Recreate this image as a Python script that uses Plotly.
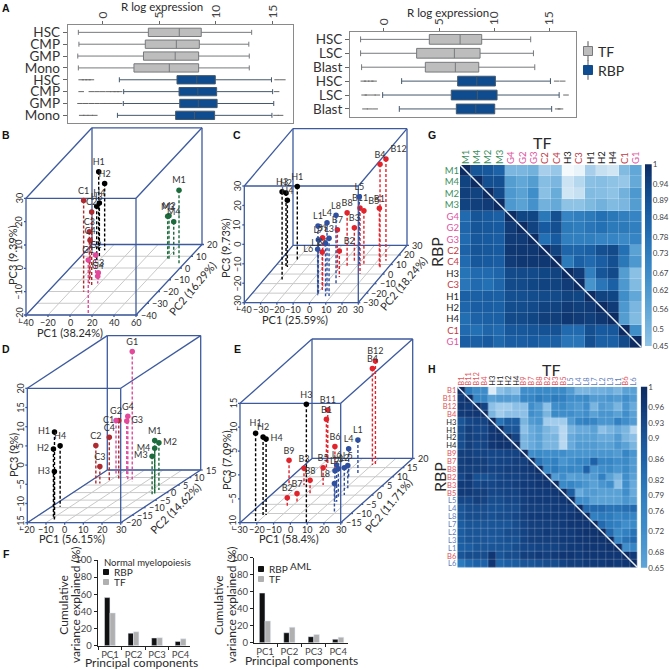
import numpy as np
import plotly.graph_objects as go

# ---- panel A: expression boxplots (q1, median, q3, fences)
cells_a1 = ["HSC", "CMP", "GMP", "Mono", "HSC", "CMP", "GMP", "Mono"]
a1_tf_low = [-2.15, -2.1, -2.2, -2.15]
a1_tf_q1 = [4.03, 3.76, 3.6, 2.76]
a1_tf_med = [6.76, 6.5, 6.4, 5.88]
a1_tf_q3 = [8.7, 8.53, 8.47, 8.47]
a1_tf_up = [13.15, 12.9, 12.94, 12.94]
a1_rbp_low = [1.47, 1.85, 1.82, 1.3]
a1_rbp_q1 = [6.56, 6.74, 6.8, 6.44]
a1_rbp_med = [8.3, 8.4, 8.44, 8.1]
a1_rbp_q3 = [9.94, 10.06, 10.1, 9.88]
a1_rbp_up = [14.9, 15.0, 15.1, 14.94]
a1_out_x = [-1.9, -1.6, -1.3, -1.0, 15.4, 15.9,
            -1.9, -1.0, -0.5, 0.0, 0.5, 0.9, 1.2, 1.5, 15.35,
            -2.0, -1.5, -1.0, -0.5, 0.0, 0.35, 0.8, 1.2, 1.5,
            -1.85, -1.5, -1.1, -0.7, 15.3, 15.7]
a1_out_row = [5, 5, 5, 5, 5, 5,
              6, 6, 6, 6, 6, 6, 6, 6, 6,
              7, 7, 7, 7, 7, 7, 7, 7, 7,
              8, 8, 8, 8, 8, 8]

cells_a2 = ["HSC", "LSC", "Blast", "HSC", "LSC", "Blast"]
a2_tf_low = [-2.12, -2.12, -2.03]
a2_tf_q1 = [4.11, 2.96, 3.75]
a2_tf_med = [6.9, 6.38, 6.47]
a2_tf_q3 = [8.86, 8.71, 8.59]
a2_tf_up = [13.3, 13.55, 13.67]
a2_rbp_low = [1.6, -0.12, 1.39]
a2_rbp_q1 = [6.68, 6.1, 6.56]
a2_rbp_med = [8.41, 8.47, 8.32]
a2_rbp_q3 = [10.1, 10.25, 10.04]
a2_rbp_up = [15.09, 15.88, 15.2]
a2_out_x = [-1.87, -1.57, -1.2, -0.9, 15.66, 16.2, -1.8, -1.5, -1.0, -0.6, 16.5, -1.72, -1.3, -0.8, 15.75, 16.0]
a2_out_row = [4, 4, 4, 4, 4, 4, 5, 5, 5, 5, 5, 6, 6, 6, 6, 6]

# ---- panels B-E: PCA coordinates
b_names = ["H1", "H2", "H3", "H4", "C1", "C2", "C3", "C4", "G1", "G2", "G3", "G4", "M1", "M2", "M3", "M4"]
b_pc1 = [-27.7, -23.7, -22.4, -22.8, -7.4, -4.3, -9.3, -11.5, 15.2, -9.2, -4.6, -1.7, 55.2, 42.7, 40.7, 43.3]
b_pc2 = [13.8, 15.2, 6.7, 9.5, -20.2, -16.0, -13.1, -10.3, -38.6, -7.5, -9.7, -13.1, 3.9, 7.3, 8.1, 11.0]
b_pc3 = [14.3, 8.6, 3.1, 3.1, 19.1, 12.1, 2.1, -2.9, 2.9, -10.7, -17.1, -16.9, 11.4, -1.3, -1.9, -5.7]

c_names = ["H1", "H2", "H3", "H4", "L1", "L2", "L3", "L4", "L5", "L6", "L7", "L8",
           "B12", "B4", "B1", "B5", "B11", "B8", "B7", "B3", "B2", "B6", "B9"]
c_pc1 = [-29.6, -33.4, -28.9, -32.2, 1.3, 6.5, 8.6, 6.0, 10.5, 1.1, 0.7, 6.4,
         25.1, 24.9, 24.5, 13.3, 16.0, 3.8, 0.4, 5.7, 5.0, 1.4, -0.1]
c_pc2 = [14.4, 8.2, -5.7, 7.4, -22.1, -23.2, -23.1, -20.4, 10.4, -22.1, -20.4, -10.1,
         13.9, 7.0, 7.0, 10.4, 0.2, 8.8, 3.6, 13.9, -3.2, -17.0, -13.6]
c_pc3 = [8.0, 7.7, 15.1, 4.3, 5.5, -2.9, -0.3, 6.4, 4.6, -6.4, -2.4, 5.2,
         22.3, 23.0, 0.4, -2.6, 3.8, -2.8, -9.0, -13.0, -16.6, -10.3, -4.6]

d_names = ["G1", "G2", "G3", "G4", "C1", "C2", "C3", "C4", "H1", "H2", "H3", "H4", "M1", "M2", "M3", "M4"]
d_pc1 = [2.9, -11.3, -4.2, -0.95, -5.8, -13.9, -13.1, -9.4, -9.0, -10.9, -7.7, -15.4, 25.7, 23.9, 24.3, 23.0]
d_pc2 = [7.2, 11.7, 10.6, 8.4, 8.4, 5.0, 6.1, 7.2, -17.1, -16.0, -18.2, -9.4, -1.6, 1.7, -1.6, 0.6]
d_pc3 = [18.9, -0.8, -0.5, 1.6, 0.5, -4.7, -10.6, -3.4, 7.5, 2.6, -2.4, 0.9, -0.8, -2.7, -4.9, -3.7]

e_names = ["H1", "H2", "H3", "H4", "B12", "B4", "B11", "B1", "B6", "B9", "B3", "B5", "B8", "B2", "B7",
           "L1", "L4", "L5", "L2", "L6", "L7", "L3", "L8"]
e_pc1 = [-21.8, -20.3, 9.3, -19.6, 12.2, 10.4, -16.2, -13.7, -7.4, -25.9, -17.0, -5.6, -6.7, -12.5, -8.9,
         7.4, 5.2, 11.3, 13.7, 13.6, 12.6, 12.4, 18.9]
e_pc2 = [-14.1, -11.7, -14.8, -10.8, 16.4, 16.4, 16.4, 13.7, 12.7, 5.5, 5.5, 5.5, 0.05, -6.3, -4.5,
         11.8, 9.1, 3.7, 0.05, -3.6, -3.6, -1.8, -9.0]
e_pc3 = [8.4, 6.7, 14.7, 5.9, 11.8, 10.2, 1.5, 0.6, -4.7, -4.8, -6.5, -6.4, -6.9, -8.1, -7.9,
         -3.0, -3.8, -5.2, -4.3, -2.3, -3.5, -3.8, -4.1]

# ---- panel F: variance explained
pcs = ["PC1", "PC2", "PC3", "PC4"]
f_normal_rbp = [56.15, 14.62, 9.0, 5.0]
f_normal_tf = [38.24, 16.29, 9.39, 8.0]
f_aml_rbp = [58.4, 11.71, 7.09, 4.0]
f_aml_tf = [25.59, 18.24, 9.73, 6.5]

# ---- panels G, H: correlation matrices
g_labels = ["M1", "M4", "M2", "M3", "G4", "G2", "G3", "C2", "C4", "H3", "C3", "H1", "H2", "H4", "C1", "G1"]
g_ticks = [1, 0.94, 0.89, 0.84, 0.78, 0.73, 0.67, 0.62, 0.56, 0.5, 0.45]
g_corr = [
    [1, .88, .87, .83, .50, .50, .52, .42, .44, .30, .32, .42, .38, .36, .48, .56],
    [.94, 1, .90, .90, .60, .56, .60, .47, .50, .37, .40, .46, .47, .45, .44, .55],
    [.95, .94, 1, .92, .62, .58, .66, .46, .54, .36, .38, .48, .47, .45, .52, .62],
    [.94, .95, .96, 1, .62, .58, .65, .52, .55, .45, .45, .49, .52, .48, .50, .60],
    [.80, .88, .86, .84, 1, .93, .93, .75, .90, .70, .72, .74, .78, .75, .72, .70],
    [.82, .88, .87, .86, .96, 1, .94, .86, .90, .74, .73, .76, .78, .74, .74, .72],
    [.80, .87, .86, .85, .96, .96, 1, .78, .86, .72, .72, .72, .70, .70, .68, .70],
    [.83, .88, .87, .86, .97, .97, .97, 1, .94, .82, .82, .84, .90, .92, .78, .58],
    [.80, .87, .86, .85, .96, .97, .97, .97, 1, .74, .84, .80, .85, .90, .75, .62],
    [.77, .80, .80, .82, .92, .92, .92, .93, .94, 1, .96, .72, .88, .92, .60, .46],
    [.76, .80, .78, .82, .92, .92, .93, .94, .94, .96, 1, .64, .76, .84, .62, .48],
    [.84, .84, .85, .84, .90, .90, .91, .92, .92, .94, .93, 1, .94, .93, .66, .56],
    [.82, .85, .85, .84, .91, .91, .92, .94, .94, .96, .95, .96, 1, .96, .62, .50],
    [.79, .83, .84, .84, .92, .92, .93, .95, .95, .97, .96, .95, .97, 1, .60, .48],
    [.80, .78, .82, .80, .87, .87, .88, .89, .89, .80, .80, .90, .86, .87, 1, .66],
    [.85, .84, .86, .81, .85, .85, .86, .84, .84, .76, .76, .90, .84, .84, .92, 1],
]
h_labels = ["B1", "B11", "B12", "B4", "H3", "H1", "H2", "H4", "B9", "B7", "B8", "B2", "B3", "B5",
            "L5", "L4", "L8", "L7", "L2", "L3", "L1", "B6", "L6"]
h_ticks = [1, 0.96, 0.93, 0.9, 0.86, 0.82, 0.79, 0.76, 0.72, 0.68, 0.65]
h_corr = [
    [1, .80, .73, .73, .53, .60, .62, .60, .72, .72, .74, .74, .74, .74, .68, .62, .62, .63, .63, .64, .62, .66, .66],
    [.96, 1, .76, .76, .66, .68, .68, .66, .76, .76, .80, .76, .80, .78, .72, .72, .74, .68, .68, .70, .68, .72, .68],
    [.97, .96, 1, .94, .60, .58, .58, .60, .60, .72, .68, .60, .72, .74, .70, .68, .72, .62, .68, .66, .62, .70, .64],
    [.96, .97, .97, 1, .62, .58, .60, .60, .60, .72, .70, .62, .74, .72, .72, .70, .72, .66, .70, .70, .66, .72, .66],
    [.90, .93, .94, .94, 1, .82, .88, .88, .62, .68, .70, .58, .58, .58, .68, .76, .78, .76, .70, .70, .78, .72, .68],
    [.92, .95, .93, .93, .97, 1, .90, .90, .60, .64, .66, .62, .60, .56, .62, .64, .64, .66, .60, .62, .64, .62, .56],
    [.92, .95, .94, .94, .97, .98, 1, .94, .62, .64, .66, .62, .62, .56, .64, .66, .66, .66, .64, .64, .68, .62, .60],
    [.92, .95, .93, .94, .97, .98, .98, 1, .62, .64, .66, .62, .62, .56, .64, .68, .68, .68, .66, .66, .70, .66, .62],
    [.95, .95, .94, .94, .93, .93, .94, .94, 1, .72, .74, .72, .72, .72, .70, .70, .70, .70, .70, .70, .68, .76, .70],
    [.95, .96, .95, .95, .93, .94, .94, .95, .95, 1, .82, .76, .78, .70, .72, .76, .76, .86, .76, .76, .72, .74, .68],
    [.95, .95, .95, .95, .94, .94, .95, .95, .96, .97, 1, .76, .80, .74, .76, .74, .86, .70, .72, .74, .70, .74, .68],
    [.93, .96, .91, .91, .92, .93, .94, .94, .95, .96, .97, 1, .68, .72, .66, .68, .68, .68, .78, .66, .62, .72, .66],
    [.96, .96, .93, .94, .93, .94, .94, .95, .96, .96, .97, .97, 1, .74, .76, .72, .70, .66, .70, .72, .60, .72, .64],
    [.96, .96, .95, .95, .93, .93, .94, .94, .96, .96, .96, .96, .97, 1, .88, .64, .68, .68, .66, .66, .66, .72, .64],
    [.93, .93, .95, .94, .92, .92, .93, .93, .95, .96, .96, .96, .96, .97, 1, .72, .72, .66, .66, .66, .66, .70, .66],
    [.90, .92, .92, .92, .91, .91, .92, .92, .95, .95, .95, .95, .96, .96, .96, 1, .84, .84, .84, .82, .82, .83, .84],
    [.90, .92, .92, .92, .91, .92, .92, .93, .95, .96, .96, .96, .96, .96, .97, .98, 1, .78, .80, .80, .76, .78, .76],
    [.88, .90, .90, .90, .90, .90, .90, .92, .94, .95, .95, .95, .95, .96, .97, .97, .97, 1, .84, .80, .78, .72, .74],
    [.88, .90, .90, .90, .90, .90, .92, .92, .94, .95, .95, .96, .95, .96, .96, .97, .98, .98, 1, .84, .74, .78, .82],
    [.88, .90, .90, .90, .89, .90, .91, .91, .94, .95, .95, .95, .95, .96, .96, .97, .97, .98, .98, 1, .76, .82, .84],
    [.87, .88, .90, .90, .90, .90, .90, .92, .93, .93, .94, .94, .94, .95, .96, .96, .97, .97, .97, .98, 1, .72, .76],
    [.90, .92, .92, .92, .97, .90, .92, .92, .95, .95, .96, .95, .96, .97, .97, .96, .97, .97, .97, .97, .97, 1, .96],
    [.80, .84, .86, .86, .97, .85, .87, .88, .90, .90, .91, .92, .92, .94, .95, .95, .96, .96, .96, .97, .96, .97, 1],
]

SIZE = 669
FONT = "Lato"
TEXT = "#2b2b2b"
GREY_BOX = "#bdbdbd"
BLUE_BOX = "#0f4c8f"
BOX_BLUE = "#3d5a9e"
GROUP_COLORS = {"H": "#000000", "C": "#ad2a30", "G": "#e2499b", "M": "#1c6b3c", "B": "#e3232c", "L": "#2f4f9f"}
TICK_COLORS = {"H": "#222222", "C": "#bf3a45", "G": "#e0559f", "M": "#3d8f60", "B": "#e2545a", "L": "#5c7cbd"}

fig = go.Figure()
layout = dict(
    width=SIZE, height=SIZE, margin=dict(l=0, r=0, t=0, b=0),
    paper_bgcolor="white", plot_bgcolor="rgba(0,0,0,0)",
    font=dict(family=FONT, color=TEXT), boxmode="overlay", barmode="group", bargap=0.5, bargroupgap=0,
    showlegend=False,
)
annotations = []
axis_count = 1  # x/y is the full-canvas overlay used by the 3D panels


def new_axes(x0, y0, x1, y1, xkw, ykw):
    global axis_count
    axis_count += 1
    n = axis_count
    layout[f"xaxis{n}"] = dict(domain=[x0 / SIZE, x1 / SIZE], anchor=f"y{n}", automargin=False, **xkw)
    layout[f"yaxis{n}"] = dict(domain=[1 - y1 / SIZE, 1 - y0 / SIZE], anchor=f"x{n}", automargin=False, **ykw)
    return f"x{n}", f"y{n}"


def label(px, py, text, size=10, angle=0, color=TEXT, weight=None, family=FONT, anchor="center"):
    annotations.append(dict(
        x=px, y=py, xref="x", yref="y", text=text, showarrow=False, textangle=angle,
        font=dict(size=size, color=color, family=family, weight=weight), xanchor=anchor, yanchor="middle",
    ))


def key_square(px, py, size, color, text, text_size, edge=None, whisker=False):
    # small legend key, the stock legend keeps too wide a gap for this layout
    if whisker:
        fig.add_trace(go.Scatter(x=[px], y=[py], mode="markers", xaxis="x", yaxis="y", hoverinfo="skip",
                                 marker=dict(symbol="line-ns-open", size=size + 5, color="#555",
                                             line=dict(color="#555", width=1))))
    fig.add_trace(go.Scatter(x=[px], y=[py], mode="markers", xaxis="x", yaxis="y", hoverinfo="skip",
                             marker=dict(symbol="square", size=size, color=color,
                                         line=dict(color=edge or color, width=1))))
    label(px + size / 2 + 3, py, text, text_size, anchor="left")


# ---- A
def box_panel(rect, x_range, cells, tf, rbp, out_x, out_row, y_range):
    xkw = dict(range=x_range, side="top", tickvals=[0, 5, 10, 15], tickangle=-90, ticks="outside", ticklen=3,
               tickfont=dict(size=12, color="#444"), showgrid=False, zeroline=False, showline=True, mirror=True,
               linecolor="#8a8a8a", linewidth=1, tickcolor="#666")
    ykw = dict(range=y_range, tickvals=list(range(1, len(cells) + 1)), ticktext=cells, ticks="outside", ticklen=4,
               tickfont=dict(size=13.5, color="#333"), showgrid=False, zeroline=False, showline=True, mirror=True,
               linecolor="#8a8a8a", linewidth=1, tickcolor="#666")
    xa, ya = new_axes(*rect, xkw, ykw)
    n = len(tf[0])
    for name, vals, pos, fill, edge in [("TF", tf, range(1, n + 1), GREY_BOX, "#77797c"),
                                        ("RBP", rbp, range(n + 1, 2 * n + 1), BLUE_BOX, "#44586c")]:
        fig.add_trace(go.Box(
            y=list(pos), lowerfence=vals[0], q1=vals[1], median=vals[2], q3=vals[3], upperfence=vals[4],
            orientation="h", width=0.7, whiskerwidth=0.6, name=name, fillcolor=fill,
            line=dict(color=edge, width=1), xaxis=xa, yaxis=ya, boxpoints=False,
        ))
    fig.add_trace(go.Scatter(
        x=out_x, y=out_row, mode="markers", xaxis=xa, yaxis=ya,
        marker=dict(symbol="line-ew-open", size=4, color="#666", line=dict(color="#666", width=1)),
    ))


box_panel((67.7, 25, 293, 122.7), [-3.09, 16.8], cells_a1,
          (a1_tf_low, a1_tf_q1, a1_tf_med, a1_tf_q3, a1_tf_up),
          (a1_rbp_low, a1_rbp_q1, a1_rbp_med, a1_rbp_q3, a1_rbp_up),
          a1_out_x, a1_out_row, [8.62, 0.38])
box_panel((350, 31.7, 575.7, 117.3), [-3.08, 17.38], cells_a2,
          (a2_tf_low, a2_tf_q1, a2_tf_med, a2_tf_q3, a2_tf_up),
          (a2_rbp_low, a2_rbp_q1, a2_rbp_med, a2_rbp_q3, a2_rbp_up),
          a2_out_x, a2_out_row, [6.6, 0.45])
label(162, 6, "R log expression", 11.5)
label(447.7, 12, "R log expression", 11.5)


# ---- B-E: oblique box like scatterplot3d, projected by hand since scenes have no oblique camera
def project(p, pc1, pc2, pc3):
    u = (np.asarray(pc1, float) - p["r1"][0]) / (p["r1"][1] - p["r1"][0])
    t = (np.asarray(pc2, float) - p["r2"][0]) / (p["r2"][1] - p["r2"][0])
    v = (np.asarray(pc3, float) - p["r3"][0]) / (p["r3"][1] - p["r3"][0])
    sx = p["x0"] + u * p["w"] + t * p["ox"]
    sy = p["y0"] - v * p["h"] + t * p["oy"]
    return sx, sy


def seg_trace(xs, ys, color, width, dash=None):
    fig.add_trace(go.Scatter(x=xs, y=ys, mode="lines", line=dict(color=color, width=width, dash=dash),
                             hoverinfo="skip", xaxis="x", yaxis="y"))


def fmt(v):
    return str(v).replace("-", "\u2212")


def panel_3d(p, names, pc1, pc2, pc3, side_labels):
    r1, r2, r3 = p["r1"], p["r2"], p["r3"]
    # floor grid
    xs, ys = [], []
    for a in p["t1"]:
        sx, sy = project(p, [a, a], r2, [r3[0], r3[0]])
        xs += list(sx) + [None]
        ys += list(sy) + [None]
    for a in p["t2"]:
        sx, sy = project(p, r1, [a, a], [r3[0], r3[0]])
        xs += list(sx) + [None]
        ys += list(sy) + [None]
    seg_trace(xs, ys, "#c9c9c9", 1)
    # back edges then front box
    xs, ys = [], []
    corners = [
        ((r1[0], r2[1], r3[0]), (r1[1], r2[1], r3[0])), ((r1[1], r2[1], r3[0]), (r1[1], r2[1], r3[1])),
        ((r1[1], r2[1], r3[1]), (r1[0], r2[1], r3[1])), ((r1[0], r2[1], r3[1]), (r1[0], r2[1], r3[0])),
        ((r1[0], r2[0], r3[0]), (r1[1], r2[0], r3[0])), ((r1[1], r2[0], r3[0]), (r1[1], r2[0], r3[1])),
        ((r1[1], r2[0], r3[1]), (r1[0], r2[0], r3[1])), ((r1[0], r2[0], r3[1]), (r1[0], r2[0], r3[0])),
        ((r1[0], r2[0], r3[0]), (r1[0], r2[1], r3[0])), ((r1[1], r2[0], r3[0]), (r1[1], r2[1], r3[0])),
        ((r1[0], r2[0], r3[1]), (r1[0], r2[1], r3[1])), ((r1[1], r2[0], r3[1]), (r1[1], r2[1], r3[1])),
    ]
    for a, b in corners:
        sx, sy = project(p, [a[0], b[0]], [a[1], b[1]], [a[2], b[2]])
        xs += list(sx) + [None]
        ys += list(sy) + [None]
    # ticks and tick labels
    for a in p["t1"]:
        sx, sy = project(p, a, r2[0], r3[0])
        xs += [float(sx), float(sx), None]
        ys += [float(sy), float(sy) + 2, None]
        label(float(sx), float(sy) + 7, fmt(a), 9)
    for a in p["t3"]:
        sx, sy = project(p, r1[0], r2[0], a)
        xs += [float(sx), float(sx) - 2, None]
        ys += [float(sy), float(sy), None]
        label(float(sx) - 7, float(sy), fmt(a), 9, angle=-90)
    for a in p["t2"]:
        sx, sy = project(p, r1[1], a, r3[0])
        xs += [float(sx), float(sx) + 2, None]
        ys += [float(sy), float(sy), None]
        label(float(sx) + 3, float(sy), fmt(a), 9, anchor="left")
    seg_trace(xs, ys, BOX_BLUE, 1.3)
    # drop lines and points per group
    for group in ["H", "C", "G", "M", "B", "L"]:
        idx = [i for i, nm in enumerate(names) if nm[0] == group]
        if not idx:
            continue
        color = GROUP_COLORS[group]
        xs, ys = [], []
        for i in idx:
            sx, sy = project(p, [pc1[i], pc1[i]], [pc2[i], pc2[i]], [pc3[i], r3[0]])
            xs += list(sx) + [None]
            ys += list(sy) + [None]
        seg_trace(xs, ys, color, 1.4, dash="3px,2px")
        sx, sy = project(p, [pc1[i] for i in idx], [pc2[i] for i in idx], [pc3[i] for i in idx])
        fig.add_trace(go.Scatter(
            x=sx, y=sy, mode="markers+text", text=[names[i] for i in idx],
            textposition=[side_labels.get(names[i], "top center") for i in idx],
            textfont=dict(size=9, color="#333", family=FONT),
            marker=dict(size=5.5, color=color), hoverinfo="skip", xaxis="x", yaxis="y",
        ))


panel_b = dict(r1=[-40, 60], r2=[-40, 20], r3=[-20, 30], x0=26, y0=315, w=110, h=116.7, ox=66, oy=-70.5,
               t1=[-40, -20, 0, 20, 40, 60], t2=[-40, -30, -20, -10, 0, 10, 20], t3=[-20, -10, 0, 10, 20, 30])
panel_c = dict(r1=[-40, 30], r2=[-30, 30], r3=[-30, 30], x0=244.3, y0=302.7, w=114, h=116.7, ox=48.7, oy=-57.3,
               t1=[-40, -30, -20, -10, 0, 10, 20, 30], t2=[-30, -20, -10, 0, 10, 20, 30],
               t3=[-30, -20, -10, 0, 10, 20, 30])
panel_d = dict(r1=[-20, 30], r2=[-20, 15], r3=[-15, 20], x0=27.3, y0=522.7, w=93.4, h=134.4, ox=80, oy=-52.7,
               t1=[-20, -10, 0, 10, 20, 30], t2=[-20, -15, -10, -5, 0, 5, 10, 15],
               t3=[-15, -10, -5, 0, 5, 10, 15, 20])
panel_e = dict(r1=[-30, 30], r2=[-15, 20], r3=[-10, 15], x0=240, y0=522.7, w=100.7, h=119.4, ox=72, oy=-64.3,
               t1=[-30, -20, -10, 0, 10, 20, 30], t2=[-15, -10, -5, 0, 5, 10, 15, 20],
               t3=[-10, -5, 0, 5, 10, 15])

panel_3d(panel_b, b_names, b_pc1, b_pc2, b_pc3, {})
panel_3d(panel_c, c_names, c_pc1, c_pc2, c_pc3, {"L6": "middle left", "L2": "middle left", "B5": "top right",
                                                 "B2": "top right", "B12": "top right"})
panel_3d(panel_d, d_names, d_pc1, d_pc2, d_pc3,
         {"H1": "middle left", "H2": "middle left", "H3": "middle left", "C1": "middle left", "G3": "middle right",
          "M2": "middle right", "M3": "middle left", "M4": "middle left"})
panel_3d(panel_e, e_names, e_pc1, e_pc2, e_pc3, {"H4": "middle right", "L8": "top left"})

label(70, 332, "PC1 (38.24%)", 11)
label(12, 255, "PC3 (9.39%)", 11, angle=-90)
label(192, 288, "PC2 (16.29%)", 11, angle=-50)
label(295, 319, "PC1 (25.59%)", 11)
label(225, 248, "PC3 (9.73%)", 11, angle=-90)
label(403, 283, "PC2 (18.24%)", 11, angle=-50)
label(72, 538, "PC1 (56.15%)", 11)
label(13, 455, "PC3 (9%)", 11, angle=-90)
label(175, 508, "PC2 (14.62%)", 11, angle=-45)
label(289, 538, "PC1 (58.4%)", 11)
label(226, 460, "PC3 (7.09%)", 11, angle=-90)
label(388, 505, "PC2 (11.71%)", 11, angle=-50)

key_square(588, 51, 9, GREY_BOX, "TF", 14, edge="#77797c", whisker=True)
key_square(588, 70, 9, BLUE_BOX, "RBP", 14, whisker=True)


# ---- F
def bar_panel(rect, x_range, rbp, tf):
    xkw = dict(type="category", categoryorder="array", categoryarray=pcs, range=x_range, tickson="boundaries",
               ticks="outside", ticklen=3, showline=True, linecolor="#222", linewidth=1.2, tickcolor="#222",
               tickangle=0, tickfont=dict(size=9.5, color="#444"), showgrid=False, zeroline=False)
    ykw = dict(range=[0, 100], tickvals=[0, 20, 40, 60, 80, 100], ticks="outside", ticklen=3, showline=True,
               linecolor="#222", linewidth=1.2, tickcolor="#222", tickfont=dict(size=9.5, color="#444"),
               showgrid=False, zeroline=False)
    xa, ya = new_axes(*rect, xkw, ykw)
    fig.add_trace(go.Bar(x=pcs, y=rbp, name="RBP", marker_color="#111111", xaxis=xa, yaxis=ya,
                         offsetgroup="a", width=0.23, offset=-0.23))
    fig.add_trace(go.Bar(x=pcs, y=tf, name="TF", marker_color="#b0b0b0", xaxis=xa, yaxis=ya,
                         offsetgroup="b", width=0.23, offset=0))


bar_panel((97.7, 560, 190, 645.7), [-0.52, 3.4], f_normal_rbp, f_normal_tf)
bar_panel((254, 557.7, 347.7, 642.7), [-0.45, 3.39], f_aml_rbp, f_aml_tf)
key_square(106, 572, 5, "#111111", "RBP", 10)
key_square(106, 582, 5, "#b0b0b0", "TF", 10)
key_square(261, 569, 5, "#111111", "RBP", 10)
key_square(261, 579, 5, "#b0b0b0", "TF", 10)
label(147.7, 562.7, "Normal myelopoiesis", 9.5)
label(300, 565.7, "AML", 10)
label(141.7, 662, "Principal components", 12)
label(301, 660, "Principal components", 12)
label(62.7, 605, "Cumulative", 12, angle=-90)
label(75, 605, "variance explained (%)", 12, angle=-90)
label(218, 605, "Cumulative", 12, angle=-90)
label(231, 605, "variance explained (%)", 12, angle=-90)

# ---- G, H heatmaps, colour bar drawn as its own small heatmap
scale_g = [(.28, "#ffffff"), (.38, "#c6e0f2"), (.45, "#8fc3e6"), (.55, "#64a9d8"), (.67, "#3d8cc8"), (.78, "#2470b4"),
           (.86, "#185a9f"), (.92, "#124a8a"), (1, "#0d2c63")]
scale_h = [(.50, "#ffffff"), (.55, "#c2def2"), (.60, "#8dc0e6"), (.65, "#5ea5d8"), (.72, "#3f8ecb"), (.79, "#2f7fc0"),
           (.86, "#1d62a8"), (.90, "#1a5598"), (.96, "#113a78"), (1, "#0d2c63")]


def colorscale(stops):
    lo, hi = stops[0][0], stops[-1][0]
    return [[(v - lo) / (hi - lo), c] for v, c in stops]


def heat_panel(rect, bar_rect, labels, corr, stops, ticks, tick_size, bar_size):
    lo, hi = stops[0][0], stops[-1][0]
    n = len(labels)
    tickx = [f'<span style="color:{TICK_COLORS[nm[0]]}">{nm}</span>' for nm in labels]
    xkw = dict(range=[-0.5, n - 0.5], side="top", tickvals=list(range(n)), ticktext=tickx, tickangle=-90, ticks="",
               tickfont=dict(size=tick_size), showgrid=False, zeroline=False)
    ykw = dict(range=[n - 0.5, -0.5], tickvals=list(range(n)), ticktext=tickx, ticks="",
               tickfont=dict(size=tick_size), showgrid=False, zeroline=False)
    xa, ya = new_axes(*rect, xkw, ykw)
    fig.add_trace(go.Heatmap(z=corr, x=list(range(n)), y=list(range(n)), zmin=lo, zmax=hi, xgap=0.2, ygap=0.2,
                             colorscale=colorscale(stops), showscale=False, xaxis=xa, yaxis=ya))
    fig.add_trace(go.Scatter(x=[-0.5, n - 0.5], y=[-0.5, n - 0.5], mode="lines", line=dict(color="#e8f1f8", width=1.5),
                             hoverinfo="skip", xaxis=xa, yaxis=ya))
    bar_vals = np.linspace(min(ticks), 1, 120)
    xkw = dict(range=[0, 1], showticklabels=False, ticks="", showgrid=False, zeroline=False)
    ykw = dict(range=[min(ticks), 1], side="right", tickvals=ticks, ticktext=[str(t) for t in ticks], ticks="",
               tickfont=dict(size=bar_size, color="#444"), showgrid=False, zeroline=False)
    xb, yb = new_axes(*bar_rect, xkw, ykw)
    fig.add_trace(go.Heatmap(z=bar_vals.reshape(-1, 1), x=[0.5], y=bar_vals, zmin=lo, zmax=hi,
                             colorscale=colorscale(stops), showscale=False, xaxis=xb, yaxis=yb))


heat_panel((460, 165, 641.7, 347.7), (645, 164.3, 651.7, 346), g_labels, g_corr, scale_g, g_ticks, 9.5, 8)
heat_panel((457.3, 386.7, 637.7, 567.7), (640.7, 386.7, 647.3, 567.7), h_labels, h_corr, scale_h, h_ticks, 7.5, 8)
label(542, 142, "TF", 16)
label(551, 369, "TF", 16)
label(436, 252, "RBP", 16, angle=-90)
label(439, 477, "RBP", 16, angle=-90)

# ---- panel letters
for letter, px, py in [("A", 6, 8), ("B", 6, 135), ("C", 237, 135), ("D", 6, 349), ("E", 237, 349),
                       ("F", 6, 554), ("G", 432, 135), ("H", 432, 369)]:
    label(px, py, letter, 10.5, weight="bold", color="#111", family="Liberation Sans")

layout["xaxis"] = dict(domain=[0, 1], range=[0, SIZE], visible=False, fixedrange=True, automargin=False)
layout["yaxis"] = dict(domain=[0, 1], range=[SIZE, 0], visible=False, fixedrange=True, automargin=False)
layout["annotations"] = annotations
fig.update_layout(**layout)
fig.write_html("out.html", config={"displayModeBar": False}, post_script="document.body.style.margin='0';")
